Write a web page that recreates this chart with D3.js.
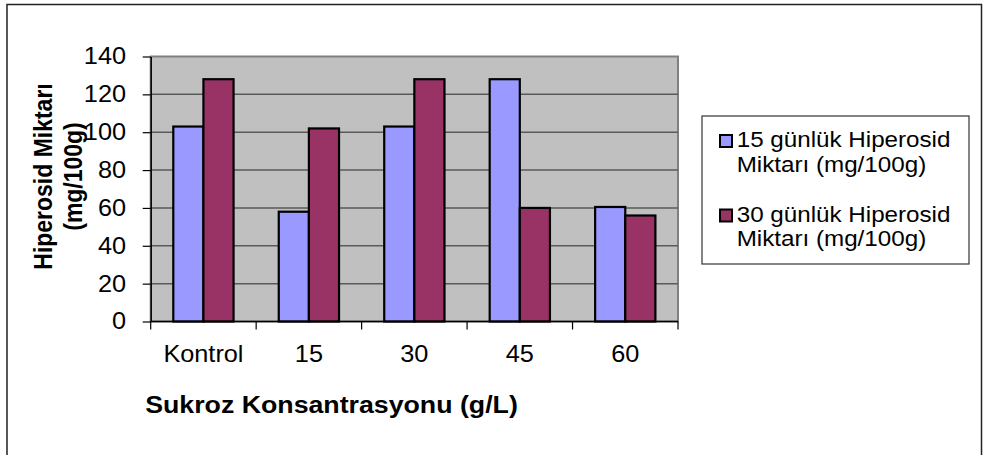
<!DOCTYPE html>
<html>
<head>
<meta charset="utf-8">
<script src="https://cdn.jsdelivr.net/npm/d3@7"></script>
<style>
  html, body { margin: 0; padding: 0; background: #fff; }
  svg { display: block; }
  text { font-family: "Liberation Sans", Arial, sans-serif; fill: #000; }
</style>
</head>
<body>
<svg id="chart" width="983" height="455"></svg>
<script>
// Hiperosid content by sucrose concentration
const categories = ["Kontrol", "15", "30", "45", "60"];
const seriesNames = ["15 günlük Hiperosid Miktarı (mg/100g)", "30 günlük Hiperosid Miktarı (mg/100g)"];
const legendLines = [["15 günlük Hiperosid", "Miktarı (mg/100g)"], ["30 günlük Hiperosid", "Miktarı (mg/100g)"]];
const gun15 = [103, 58, 103, 128, 60.5];
const gun30 = [128, 102, 128, 60, 56];
const yTicks = [0, 20, 40, 60, 80, 100, 120, 140];
const colors = ["#9999FF", "#993366"];

// glyphs are drawn slightly wide
const SX = 1.1;

const svg = d3.select("#chart");

// outer chart frame
svg.append("rect")
  .attr("x", 7).attr("y", 4.5).attr("width", 974.5).attr("height", 470)
  .attr("fill", "#fff").attr("stroke", "#222").attr("stroke-width", 1.5);

const plot = { left: 150.7, right: 678, top: 56.5, bottom: 321.5 };

const x = d3.scaleBand().domain(categories).range([plot.left, plot.right]).padding(0);
const xs = d3.scaleBand().domain(seriesNames).range([0, x.bandwidth()])
  .paddingInner(0).paddingOuter(0.75);
const y = d3.scaleLinear().domain([0, 140]).range([plot.bottom, plot.top]);

// plot area
svg.append("rect")
  .attr("x", plot.left).attr("y", plot.top)
  .attr("width", plot.right - plot.left).attr("height", plot.bottom - plot.top)
  .attr("fill", "#C0C0C0").attr("stroke", "#808080").attr("stroke-width", 2);

// gridlines
svg.append("g").selectAll("line")
  .data(yTicks.filter(v => v > 0 && v < 140))
  .join("line")
  .attr("x1", plot.left).attr("x2", plot.right)
  .attr("y1", d => y(d)).attr("y2", d => y(d))
  .attr("stroke", "#5a5a5a").attr("stroke-width", 1.5);

// bars
const rows = categories.map((c, i) => ({ cat: c, vals: [gun15[i], gun30[i]] }));
svg.append("g").selectAll("g")
  .data(rows)
  .join("g")
  .attr("transform", d => `translate(${x(d.cat)},0)`)
  .selectAll("rect")
  .data(d => d.vals.map((v, j) => ({ v, j })))
  .join("rect")
  .attr("x", d => xs(seriesNames[d.j]))
  .attr("width", xs.bandwidth())
  .attr("y", d => y(d.v))
  .attr("height", d => y(0) - y(d.v))
  .attr("fill", d => colors[d.j])
  .attr("stroke", "#000").attr("stroke-width", 2.2);

// y axis
const yAxis = svg.append("g")
  .attr("transform", `translate(${plot.left},0)`)
  .call(d3.axisLeft(y).tickValues(yTicks).tickSize(8).tickSizeOuter(0));
yAxis.select(".domain").attr("stroke", "#000").attr("stroke-width", 1.5);
yAxis.selectAll(".tick line").attr("stroke", "#000").attr("stroke-width", 1.2);
yAxis.selectAll("text")
  .attr("x", -24.7 / SX)
  .attr("transform", `scale(${SX},1)`)
  .style("font-family", '"Liberation Sans", Arial, sans-serif')
  .style("font-size", "23px").attr("fill", "#000");

// x axis: baseline, boundary ticks and category labels
const xAxis = svg.append("g");
xAxis.append("line")
  .attr("x1", plot.left).attr("x2", plot.right)
  .attr("y1", plot.bottom).attr("y2", plot.bottom)
  .attr("stroke", "#000").attr("stroke-width", 1.5);
const edges = categories.map(c => x(c)).concat([x(categories[categories.length - 1]) + x.bandwidth()]);
xAxis.selectAll("line.tk")
  .data(edges)
  .join("line").attr("class", "tk")
  .attr("x1", d => d).attr("x2", d => d)
  .attr("y1", plot.bottom).attr("y2", plot.bottom + 8)
  .attr("stroke", "#000").attr("stroke-width", 1.2);
xAxis.selectAll("text")
  .data(categories)
  .join("text")
  .attr("transform", d => `translate(${x(d) + x.bandwidth() / 2},361.7) scale(${SX},1)`)
  .attr("text-anchor", "middle")
  .style("font-size", "23px")
  .text(d => d);

// axis titles
svg.append("text")
  .attr("transform", `translate(331.5,412.7) scale(${SX},1)`)
  .attr("text-anchor", "middle")
  .style("font-size", "24.3px").style("font-weight", "bold")
  .text("Sukroz Konsantrasyonu (g/L)");

const yTitle = svg.append("text")
  .attr("transform", `translate(51.5,176.5) scale(${SX},1) rotate(-90)`)
  .attr("text-anchor", "middle")
  .style("font-size", "23px").style("font-weight", "bold");
yTitle.append("tspan").attr("x", 0).attr("y", 0).text("Hiperosid Miktarı");
yTitle.append("tspan").attr("x", 0).attr("y", 27.3).text("(mg/100g)");

// legend
const legend = svg.append("g");
legend.append("rect")
  .attr("x", 702).attr("y", 116).attr("width", 267).attr("height", 148)
  .attr("fill", "#fff").attr("stroke", "#333").attr("stroke-width", 1.2);
const entries = legend.selectAll("g.entry")
  .data(legendLines)
  .join("g").attr("class", "entry")
  .attr("transform", (d, i) => `translate(0,${i * 74.5})`);
entries.append("rect")
  .attr("x", 720).attr("y", 135).attr("width", 12).attr("height", 12)
  .attr("fill", (d, i) => colors[i]).attr("stroke", "#000").attr("stroke-width", 2);
entries.append("text")
  .attr("transform", `translate(736.7,147.3) scale(${SX},1)`)
  .style("font-size", "22px")
  .text(d => d[0]);
entries.append("text")
  .attr("transform", `translate(736.7,171.7) scale(${SX},1)`)
  .style("font-size", "22px")
  .text(d => d[1]);
</script>
</body>
</html>
